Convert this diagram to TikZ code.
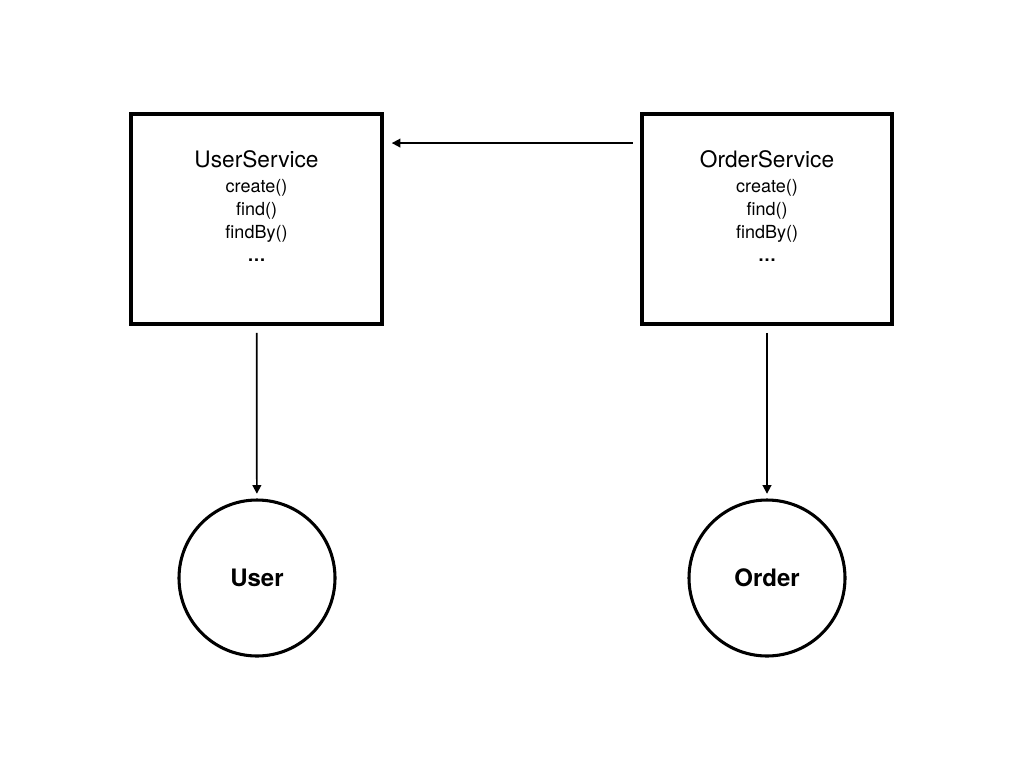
\documentclass[tikz,border=0pt]{standalone}
\usepackage{fontspec}
\setmainfont{TeX Gyre Heros}
\usetikzlibrary{arrows.meta}
\tikzset{
  svc/.style={draw, line width=2.9pt, minimum width=188pt, minimum height=157.5pt, inner sep=0pt},
  ent/.style={draw, circle, line width=2.3pt, minimum size=117pt, inner sep=0pt,
    font=\bfseries\fontsize{18}{21}\selectfont},
  conn/.style={-{Triangle[length=6.5pt, width=6.5pt]}, line width=1.3pt},
  lbl/.style={align=center, inner sep=0pt, anchor=north, font=\fontsize{13.5}{17.25}\selectfont},
}
\newcommand{\ttl}[1]{{\fontsize{17}{20}\selectfont #1}}

\begin{document}
\begin{tikzpicture}[x=0.75pt, y=-0.75pt]
  \fill[white] (0,0) rectangle (1024,768);
  \useasboundingbox (0,0) rectangle (1024,768);
  % services
  \node[svc] (usersvc)  at (256.5,219) {};
  \node[svc] (ordersvc) at (767,219) {};
  \node[lbl] (usertxt)  at (256.5,150) {\ttl{UserService}\\[2pt] create()\\ find()\\ findBy()\\ \textbf{…}};
  \node[lbl] (ordertxt) at (767,150) {\ttl{OrderService}\\[2pt] create()\\ find()\\ findBy()\\ \textbf{…}};
  % entities
  \node[ent] (user)  at (257,578) {User};
  \node[ent] (order) at (767,578) {Order};
  % dependencies
  \draw[conn] ([shift={(-7,31)}]ordersvc.north west) -- ([shift={(8,31)}]usersvc.north east);
  \draw[conn, shorten <=5.25pt, shorten >=3.5pt] (usersvc) -- (user);
  \draw[conn, shorten <=5.25pt, shorten >=3.5pt] (ordersvc) -- (order);
\end{tikzpicture}
\end{document}
